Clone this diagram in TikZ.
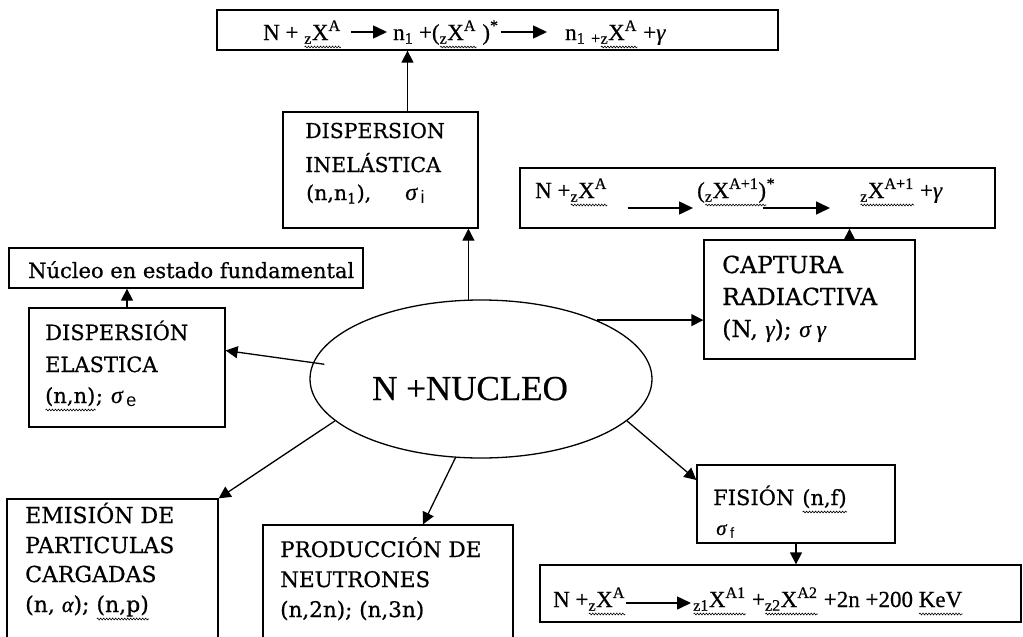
\documentclass[tikz,border=0pt]{standalone}
\usepackage{fontspec}
\setmainfont{DejaVu Serif}[FakeBold=0.6]
\newfontfamily\tms{Liberation Serif}[FakeBold=0.5]
\newfontfamily\ars{Liberation Sans}
\usetikzlibrary{arrows.meta,calc,shapes.geometric,decorations.pathmorphing}
\newcommand\sig[3]{{\tms\itshape\fontsize{#2}{#2}\selectfont σ}\,\raisebox{-3pt}{\ars\fontsize{#3}{#3}\selectfont #1}}
\newlength\wvl
\newcommand\wv[1]{\settowidth\wvl{#1}\leavevmode\rlap{#1}\raisebox{-7pt}{\tikz[x=1pt,y=1pt,baseline=0pt]\draw[line width=0.6pt,decorate,decoration={snake,amplitude=0.9pt,segment length=3pt}] (0,0)--(\wvl,0);}}
\newcommand\fs[1]{\fontsize{#1}{#1}\selectfont}
\begin{document}
\begin{tikzpicture}[x=1pt,y=-1pt,
  box/.style={draw,line width=1.3pt,inner sep=0pt},
  lbl/.style={anchor=base west,inner sep=0pt},
  frm/.style={anchor=base west,inner sep=0pt,font=\tms\fontsize{23}{26}\selectfont},
  arr/.style={line width=1.3pt,-{Triangle[length=12pt,width=12pt]}},
  iarr/.style={line width=1.5pt,-{Triangle[length=14pt,width=13pt]}},
]
\useasboundingbox[fill=white] (0,0) rectangle (1023,637);

% boxes
\node[box,minimum width=561,minimum height=40] (top) at (497.5,30) {};
\node[box,minimum width=475,minimum height=60] (cr) at (757.5,198) {};
\node[box,minimum width=195,minimum height=116] (ine) at (380.5,170) {};
\node[box,minimum width=354,minimum height=40] (fund) at (186,268) {};
\node[box,minimum width=196,minimum height=119] (ela) at (127,367.5) {};
\node[box,minimum width=211,minimum height=119] (cap) at (809.5,299.5) {};
\node[box,minimum width=211,minimum height=146] (emi) at (112.5,572) {};
\node[box,minimum width=250,minimum height=120] (pro) at (388,585) {};
\node[box,minimum width=198,minimum height=78] (fis) at (796,504) {};
\node[box,minimum width=481,minimum height=57] (fr) at (780.5,593.5) {};
\node[draw,ellipse,line width=1.3pt,inner sep=0pt,minimum width=342,minimum height=158] (nuc) at (481,379) {};

% ellipse text
\node[anchor=base west,inner sep=0pt,font=\tms\fontsize{35}{40}\selectfont] (nuctxt) at (372,400) {N +NUCLEO};

% top reaction
\node[frm] (t1) at (263,40) {N + \wv{\textsubscript{z}X\textsuperscript{A}}};
\node[frm] (t2) at (393,40) {n\textsubscript{1} +(\wv{\textsubscript{z}X\textsuperscript{A}} )\textsuperscript{*}};
\node[frm] (t3) at (565,40) {n\textsubscript{1} \textsubscript{+}\wv{\textsubscript{z}X\textsuperscript{A}} +{\itshape γ}};
\draw[iarr] ($(t1.base east)+(10,-8)$) -- ($(t2.base west)+(-6,-8)$);
\draw[iarr] ($(t2.base east)+(2,-8)$) -- ($(t3.base west)+(-18,-8)$);

% capture reaction
\node[frm] (c1) at (535,198) {N +\wv{\textsubscript{z}X\textsuperscript{A}}};
\node[frm] (c2) at (697,198) {(\wv{\textsubscript{z}X\textsuperscript{A+1})}\textsuperscript{*}};
\node[frm] (c3) at (860,198) {\wv{\textsubscript{z}X\textsuperscript{A+1}} +{\itshape γ}};
\draw[iarr] ($(c1.base east)+(20,10)$) -- ($(c2.base west)+(-4,10)$);
\draw[iarr] ($(c2.base east)+(-12,10)$) -- ($(c3.base west)+(-30,10)$);

% fission reaction
\node[frm] (f1) at (553,607) {N +\wv{\textsubscript{z}X\textsuperscript{A}}};
\node[frm] (f2) at (693,607) {\wv{\textsubscript{z1}X\textsuperscript{A1}} +\wv{\textsubscript{z2}X\textsuperscript{A2}} +2n +200 \wv{KeV}};
\draw[iarr] ($(f1.base east)+(0,-4)$) -- ($(f2.base west)+(-2,-4)$);

% labels
\node[lbl,font=\fs{20.5}] (ine1) at (305,138) {DISPERSION};
\node[lbl,font=\fs{20.5}] (ine2) at (305,172) {INELÁSTICA};
\node[lbl,font=\fs{20.5}] (ine3) at (306,200) {(n,n\textsubscript{1}),\hspace{34pt}\sig{i}{24}{18}};

\node[lbl,font=\fs{21}] (fund1) at (28,278) {Núcleo en estado fundamental};

\node[lbl,font=\fs{21}] (ela1) at (45,340) {DISPERSIÓN};
\node[lbl,font=\fs{21}] (ela2) at (45,372) {ELASTICA};
\node[lbl,font=\fs{21}] (ela3) at (45,403) {\wv{(n,n)};\hspace{8pt}\sig{e}{24}{18}};

\node[lbl,font=\fs{23.5}] (cap1) at (722,273) {CAPTURA};
\node[lbl,font=\fs{23.5}] (cap2) at (722,305) {RADIACTIVA};
\node[lbl,font=\fs{23.5}] (cap3) at (722,337) {(N, {\tms\itshape γ}); {\tms\itshape σ γ}};

\node[lbl,font=\fs{22}] (emi1) at (25,523) {EMISIÓN DE};
\node[lbl,font=\fs{22}] (emi2) at (25,553) {PARTICULAS};
\node[lbl,font=\fs{22}] (emi3) at (25,582) {CARGADAS};
\node[lbl,font=\fs{22}] (emi4) at (25,612) {(n, {\tms\itshape α}); \wv{(n,p)}};

\node[lbl,font=\fs{21.5}] (pro1) at (280,557) {PRODUCCIÓN DE};
\node[lbl,font=\fs{21.5}] (pro2) at (280,587) {NEUTRONES};
\node[lbl,font=\fs{21.5}] (pro3) at (280,617) {(n,2n); (n,3n)};

\node[lbl,font=\fs{21}] (fis1) at (713,505) {FISIÓN\hspace{8pt}\wv{(n,f)}};
\node[lbl,font=\fs{21}] (fis2) at (716,535) {\sig{f}{21}{15}};

% connectors
\draw[arr] ([xshift=27pt]ine.north) -- ([xshift=27pt]ine.north |- top.south);
\draw[arr] (nuc.99) -- (nuc.99 |- ine.south);
\draw[arr] ([xshift=40pt]cap.north) -- ([xshift=40pt]cap.north |- cr.south);
\draw[arr] (nuc.27) -- (nuc.27 -| cap.west);
\draw[arr] (ela.north) -- (ela.north |- fund.south);
\draw[arr] ([xshift=12pt]nuc.175) -- ([yshift=17pt]ela.east);
\draw[arr] (nuc.196) -- (emi.north east);
\draw[arr] (nuc.252) -- ([xshift=35pt]pro.north);
\draw[arr] (nuc.344) -- ([yshift=24pt]fis.west);
\draw[arr] (fis.south) -- (fis.south |- fr.north);
\end{tikzpicture}
\end{document}
